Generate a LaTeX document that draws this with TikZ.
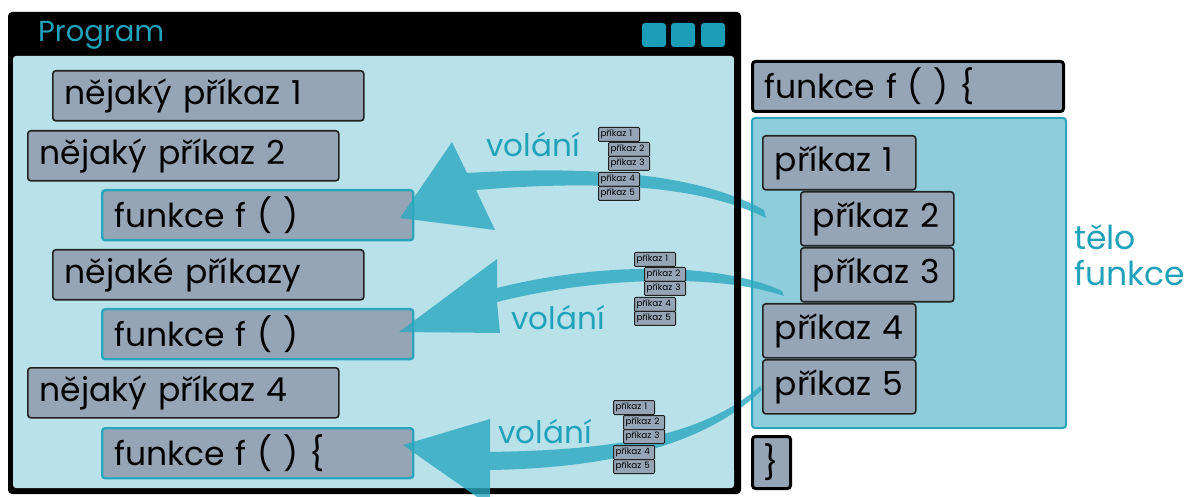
\documentclass[tikz,border=0pt]{standalone}
\usepackage{fontspec}
\setmainfont{Poppins}
\definecolor{bgblue}{HTML}{B9E1EA}
\definecolor{bodyfill}{HTML}{8ECEDC}
\definecolor{tealA}{HTML}{2AA5BB}
\definecolor{tealT}{HTML}{1FA2BA}
\definecolor{greybox}{HTML}{95A5B6}
\definecolor{darkline}{HTML}{222222}
\definecolor{arrowc}{HTML}{2AA8C0}
\definecolor{squarec}{HTML}{1A9EB8}
\newcommand\fs[1]{\fontsize{#1}{#1}\selectfont}
\tikzset{
  gbox/.style={draw=darkline, fill=greybox, line width=1.6pt, rounded corners=3pt,
    anchor=north west, align=left, inner ysep=0pt},
  lbox/.style={gbox, minimum height=50pt, inner xsep=12pt, text width=287pt, font=\fs{33}},
  fcall/.style={lbox, draw=tealA, line width=2.4pt},
  rbox/.style={gbox, minimum height=54pt, inner xsep=12pt, text width=129pt, font=\fs{33}},
  sbox/.style={gbox, line width=1pt, rounded corners=1pt, minimum height=14pt,
    inner xsep=2pt, text width=37pt, font=\fs{8.8}},
  tealtext/.style={text=tealT, inner sep=0pt},
  arrowshape/.style={fill=arrowc, fill opacity=0.8, draw=none},
}
\newcommand\mystack[3]{%
  \node[sbox] (#1a) at (#2,#3) {\mbox{příkaz 1}};
  \node[sbox, xshift=10pt, yshift=-15pt] (#1b) at (#2,#3) {\mbox{příkaz 2}};
  \node[sbox, xshift=10pt, yshift=-29pt] (#1c) at (#2,#3) {\mbox{příkaz 3}};
  \node[sbox, yshift=-45pt] (#1d) at (#2,#3) {\mbox{příkaz 4}};
  \node[sbox, yshift=-59pt] (#1e) at (#2,#3) {\mbox{příkaz 5}};
}
\begin{document}
\begin{tikzpicture}[x=1pt, y=-1pt]
\useasboundingbox (0,0) rectangle (1187,497);
\fill[white] (0,0) rectangle (1187,497);
% program window
\fill[black, rounded corners=4pt] (8,12) rectangle (741,494);
\fill[bgblue, rounded corners=3pt] (13,56) rectangle (734,488);
\node[tealtext, anchor=west, font=\fs{29}] (prog) at (38,35) {Program};
\foreach \i/\xx in {1/642,2/671,3/701}
  \fill[squarec, rounded corners=3pt] (\xx,23) rectangle ++(24,24);
% function body box
\draw[tealA, fill=bodyfill, line width=2pt, rounded corners=3pt] (752,118) rectangle (1066,428);
% left boxes
\node[lbox] (p1) at (52,70) {\mbox{nějaký příkaz 1}};
\node[lbox] (p2) at (27,130) {\mbox{nějaký příkaz 2}};
\node[fcall] (f1) at (101,189) {\mbox{funkce f ( )}};
\node[lbox] (p3) at (52,249) {\mbox{nějaké příkazy}};
\node[fcall] (f2) at (101,308) {\mbox{funkce f ( )}};
\node[lbox] (p4) at (27,367) {\mbox{nějaký příkaz 4}};
\node[fcall] (f3) at (101,427) {\mbox{funkce f ( ) \{}};
% right side
\node[lbox, line width=3pt, draw=black] (fdef) at (751,60) {\mbox{funkce f ( ) \{}};
\node[rbox] (b1) at (762,135) {\mbox{příkaz 1}};
\node[rbox] (b2) at (800,191) {\mbox{příkaz 2}};
\node[rbox] (b3) at (800,247) {\mbox{příkaz 3}};
\node[rbox] (b4) at (762,303) {\mbox{příkaz 4}};
\node[rbox] (b5) at (762,359) {\mbox{příkaz 5}};
\node[gbox, line width=3pt, draw=black, minimum width=38pt, minimum height=52pt,
  inner xsep=0pt, align=center, text width=38pt, font=\fs{33}] (close) at (751,435) {\}};
\node[tealtext, anchor=west, align=left, font=\fontsize{33}{36}\selectfont] (body) at (1074,255) {tělo\\funkce};
% arrows
\fill[arrowshape] (764,210) .. controls (700,175) and (600,165) .. (467,173) -- (452,142)
  -- (400,218) -- (495,230) -- (476,190) .. controls (600,180) and (700,185) .. (766,218) -- cycle;
\fill[arrowshape] (782,291) .. controls (720,262) and (600,262) .. (497,288) -- (497,259)
  -- (399,332) -- (500,333) -- (497,302) .. controls (600,276) and (720,274) .. (784,296) -- cycle;
\fill[arrowshape] (760,386) .. controls (700,440) and (600,450) .. (490,452) -- (490,419)
  -- (403,445) -- (490,506) -- (490,470) .. controls (610,468) and (705,445) .. (762,390) -- cycle;
% right border of the program window over the arrow tails
\fill[black] (734,40) rectangle (741,470);
% call labels
\node[tealtext, font=\fs{31}] (v1) at (533,145) {volání};
\node[tealtext, font=\fs{31}] (v2) at (558,318) {volání};
\node[tealtext, font=\fs{31}] (v3) at (545,432) {volání};
% small stacks
\mystack{s}{598}{127}
\mystack{t}{634}{252}
\mystack{u}{613}{400}
\end{tikzpicture}
\end{document}
